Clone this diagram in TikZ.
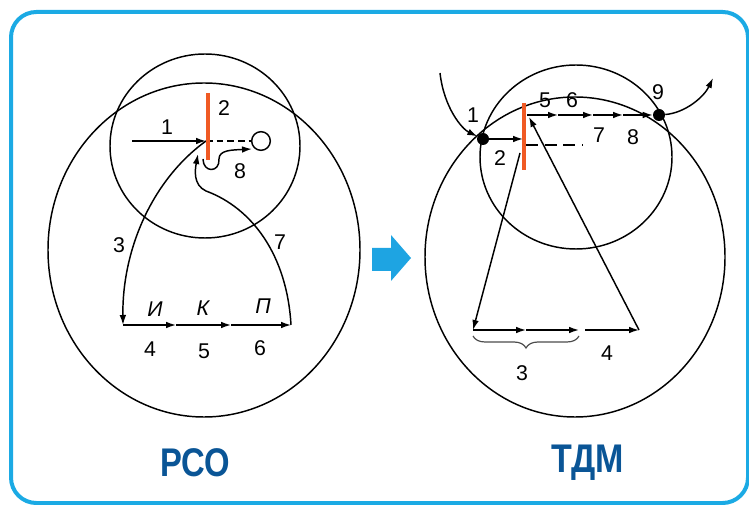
\documentclass[tikz,border=0pt]{standalone}
\usepackage{fontspec}
\setmainfont{Liberation Sans}
\usetikzlibrary{arrows.meta,decorations.pathreplacing}
\definecolor{frameblue}{RGB}{27,170,228}
\definecolor{titleblue}{RGB}{10,85,150}
\definecolor{barorange}{RGB}{240,90,36}
\definecolor{arrowblue}{RGB}{30,164,226}

\begin{document}
\begin{tikzpicture}[x=0.75pt,y=-0.75pt,
    line/.style={black, line width=1.1pt},
    arr/.style={line, -{Latex[length=7.5pt,width=5pt]}},
    num/.style={font=\fontsize{16}{19}\selectfont, inner sep=0pt},
    phase/.style={font=\fontsize{16}{19}\selectfont\itshape, inner sep=0pt},
    title/.style={font=\fontsize{30}{34}\selectfont\bfseries, text=titleblue, inner sep=0pt},
    bar/.style={barorange, line width=3pt},
    dot/.style={circle, fill=black, inner sep=0pt, minimum size=9pt}
]
    \useasboundingbox (0,0) rectangle (749,505);
    \draw[frameblue, line width=3pt, rounded corners=19pt] (11,12) rectangle (748,503);

    % left: PCO
    \draw[line] (204,250) ellipse [x radius=156, y radius=167];
    \draw[line] (205,146) ellipse [x radius=95, y radius=92];
    \coordinate (barLt) at (208,93);
    \coordinate (barLb) at (208,160);
    \coordinate (in1) at (132,141);
    \coordinate (hit) at (206,141);
    \coordinate (i0) at (123,325);
    \coordinate (i1) at (176,325);
    \coordinate (i2) at (231,325);
    \coordinate (i3) at (291,325);
    \coordinate (back) at (198,154);
    \coordinate (curl) at (203,159);
    \coordinate (out8) at (252,149);
    \node[draw, circle, line width=1.1pt, minimum size=14pt, inner sep=0pt] (ring) at (261,141) {};
    \draw[arr] (in1) -- (hit);
    \draw[line, dashed, dash pattern=on 5pt off 3pt] (hit) -- (ring.west);
    \draw[arr] (hit) .. controls (152,180) and (122,250) .. (i0);
    \foreach \a/\b in {i0/i1, i1/i2, i2/i3}
        \draw[arr] (\a) -- (\b);
    \draw[arr] (i3) .. controls (287,255) and (252,208) .. (206,191)
        .. controls (193,185) and (195,170) .. (back);
    \draw[arr] (curl) .. controls (203,173) and (220,173) .. (219,159)
        .. controls (219,150) and (232,150) .. (out8);
    \draw[bar] (barLt) -- (barLb);
    \node[num] (l1) at (167,127) {1};
    \node[num] (l2) at (224,108) {2};
    \node[num] (l8) at (240,171) {8};
    \node[num] (l3) at (119,245) {3};
    \node[num] (l7) at (280,242) {7};
    \node[phase] (pi) at (155,309) {И};
    \node[phase] (pk) at (203,308) {К};
    \node[phase] (pp) at (263,306) {П};
    \node[num] (l4) at (150,349) {4};
    \node[num] (l5) at (204,351) {5};
    \node[num] (l6) at (260,348) {6};
    \node[title] (rso) at (195,463) {\scalebox{0.82}[1]{РСО}};

    % block arrow between the two
    \fill[arrowblue] (372,248) -- (391,248) -- (391,235) -- (411,258)
        -- (391,281) -- (391,271) -- (372,271) -- cycle;

    % right: TDM
    \draw[line] (575,257) ellipse [x radius=150, y radius=160];
    \draw[line] (576,157) ellipse [x radius=96, y radius=92];
    \coordinate (barRt) at (524,103);
    \coordinate (barRb) at (524,170);
    \node[dot] (n1) at (483,139) {};
    \node[dot] (n9) at (659,115) {};
    \coordinate (src) at (440,73);
    \coordinate (sink) at (713,78);
    \coordinate (t0) at (527,115);
    \coordinate (t1) at (558,115);
    \coordinate (t2) at (593,115);
    \coordinate (t3) at (623,115);
    \coordinate (stim) at (523,139);
    \coordinate (dr0) at (526,145);
    \coordinate (dr1) at (583,145);
    \coordinate (down0) at (520,153);
    \coordinate (b0) at (473,330);
    \coordinate (b1) at (526,330);
    \coordinate (b2) at (579,330);
    \coordinate (b3) at (585,330);
    \coordinate (b4) at (639,330);
    \coordinate (up1) at (529,117);
    \draw[arr] (src) .. controls (444,108) and (462,129) .. (n1);
    \draw[arr] (n9) .. controls (685,113) and (704,97) .. (sink);
    \draw[arr] (n1) -- (stim);
    \draw[line, dashed, dash pattern=on 9pt off 5pt] (dr0) -- (dr1);
    \foreach \a/\b in {t0/t1, t1/t2, t2/t3, t3/n9}
        \draw[arr] (\a) -- (\b);
    \draw[arr] (down0) -- (b0);
    \foreach \a/\b in {b0/b1, b1/b2, b3/b4}
        \draw[arr] (\a) -- (\b);
    \draw[arr] (b4) -- (up1);
    \draw[bar] (barRt) -- (barRb);
    \draw[black!70, line width=0.9pt, decorate, decoration={brace, amplitude=9pt, mirror}]
        (473,336) -- (579,336);
    \node[num] (r1) at (473,115) {1};
    \node[num] (r2) at (500,158) {2};
    \node[num] (r5) at (545,100) {5};
    \node[num] (r6) at (572,100) {6};
    \node[num] (r7) at (599,135) {7};
    \node[num] (r8) at (633,137) {8};
    \node[num] (r9) at (658,92) {9};
    \node[num] (r3) at (522,373) {3};
    \node[num] (r4) at (607,353) {4};
    \node[title] (tdm) at (588,463) {\scalebox{0.85}[1]{ТДМ}};
\end{tikzpicture}
\end{document}
